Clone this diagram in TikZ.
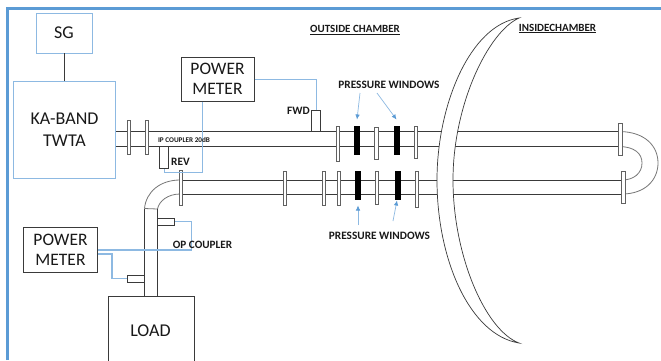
\documentclass[tikz,border=0pt]{standalone}
\usepackage{fontspec}
\setmainfont{Carlito}
\usetikzlibrary{arrows.meta}
\definecolor{frameblue}{HTML}{5B9BD5}
\definecolor{wireblue}{HTML}{8DB9E2}
\definecolor{darkline}{HTML}{3A3A3A}
\definecolor{elbowgrey}{HTML}{777777}
\tikzset{
  bluebox/.style={draw=wireblue,line width=.9pt,fill=white,inner sep=0pt,align=center,font=\fontsize{18}{21.5}\selectfont,text=black!90},
  darkbox/.style={draw=darkline,line width=1pt,fill=white,inner sep=0pt,align=center,font=\fontsize{17.5}{20}\selectfont,text=black!90},
  guide/.style={draw=darkline,line width=.9pt},
  flangebox/.style={draw=darkline!80,line width=.8pt,fill=white},
  windowbox/.style={fill=black,draw=none},
  couplerbox/.style={draw=darkline,line width=.8pt,fill=white},
  wire/.style={draw=wireblue,line width=.9pt},
  pointer/.style={draw=wireblue,line width=.7pt,-{Latex[length=5pt,width=4.5pt,color=frameblue]}},
  boldlabel/.style={font=\fontsize{11.3}{13}\selectfont\bfseries,text=black!90,inner sep=0pt},
  bendline/.style={draw=elbowgrey,line width=.8pt},
}
\begin{document}
\begin{tikzpicture}[x=1pt,y=-1pt]
\useasboundingbox (0,0) rectangle (661,360);
\clip (0,0) rectangle (661,360);
\fill[white] (0,0) rectangle (661,360);
% frame
\draw[frameblue,line width=2.2pt] (7.5,360) -- (7.5,8.5) -- (661,8.5);

% waveguides
\coordinate (ua) at (115.5,131.5);
\coordinate (ub) at (115.5,146.5);
\coordinate (uc) at (620,131.5);
\coordinate (ud) at (620,146.5);
\draw[guide] (ua) -- (uc);
\draw[guide] (ub) -- (ud);
\coordinate (la) at (180,180);
\coordinate (lb) at (180,194);
\coordinate (lc) at (622,180);
\coordinate (ld) at (622,194);
\draw[guide] (la) -- (lc);
\draw[guide] (lb) -- (ld);
% U bend
\draw[bendline] (uc) .. controls (645,132) and (658,146) .. (658,163) .. controls (658,180) and (645,194) .. (ld);
\draw[bendline] (ud) .. controls (634,147) and (642,153) .. (642,163) .. controls (642,173) and (634,180) .. (lc);
% elbow
\coordinate (va) at (144.5,208.5);
\coordinate (vb) at (157.5,209);
\draw[bendline] (la) .. controls (160,180) and (146,192) .. (va);
\draw[bendline] (lb) .. controls (168,194) and (159,201) .. (vb);
\draw[bendline] (va) -- (vb);
\coordinate (vc) at (144.5,296);
\coordinate (vd) at (157.5,296);
\draw[guide] (va) -- (vc);
\draw[guide] (vb) -- (vd);

% flanges
\foreach \xa/\ya/\xb/\yb in {
 127/120/130.5/154, 145/120/148/154,
 336/126/339.5/161, 374.5/127/378/159, 414/126/417.5/158, 618.5/123/622.5/155,
 179/170.5/182/205, 283/171/286/205, 322/171/325/205,
 337/171/340.5/205, 375/171/378.5/204, 415/171/418.5/207, 621/171/625/203}
 {\draw[flangebox] (\xa,\ya) rectangle (\xb,\yb);}
% pressure windows
\foreach \xa/\ya/\xb/\yb in {
 353.5/126/360/155, 393.5/126/399.5/155,
 354.5/171/361/200, 394.5/171/400.5/200}
 {\fill[windowbox] (\xa,\ya) rectangle (\xb,\yb);}

% dish
\draw[fill=white,draw=darkline,line width=.7pt]
  (519,18) .. controls (470,25) and (437,105) .. (437,180)
  .. controls (437,260) and (470,335) .. (519,343)
  .. controls (485,330) and (453,255) .. (453,180)
  .. controls (453,105) and (488,32) .. (519,18) -- cycle;

% boxes
\node[bluebox,minimum width=56pt,minimum height=40pt] (sg) at (64,33) {SG};
\node[bluebox,minimum width=102pt,minimum height=97pt] (twta) at (64.5,129.5) {KA-BAND\\TWTA};
\node[darkbox,minimum width=73pt,minimum height=44pt] (pmtop) at (217.5,79) {POWER\\METER};
\node[darkbox,minimum width=74pt,minimum height=45.5pt] (pmlow) at (60.5,249.75) {POWER\\METER};
\node[darkbox,minimum width=85.5pt,minimum height=70pt,anchor=north west] (load) at (108,296) {};
\node[font=\fontsize{18}{20}\selectfont,text=black!90,inner sep=0pt] (loadtext) at (150.5,331) {LOAD};
\draw[darkline,line width=1pt] (sg.south) -- (sg.south |- twta.north);

% couplers
\node[couplerbox,inner sep=0pt,minimum width=9pt,minimum height=21pt] (fwdc) at (316,120.5) {};
\node[couplerbox,inner sep=0pt,minimum width=9pt,minimum height=22pt] (revc) at (164,157.5) {};
\node[couplerbox,inner sep=0pt,minimum width=17pt,minimum height=7pt] (opa) at (166,221.5) {};
\node[couplerbox,inner sep=0pt,minimum width=17.5pt,minimum height=7pt] (opb) at (135.75,278.5) {};

% wires
\coordinate (pa) at (pmtop.east);
\draw[wire] (pa) -| (fwdc.north);
\coordinate (pb) at (202,172);
\draw[wire] (pmtop.south -| pb) -- (pb) -| (revc.south);
\coordinate (pc) at (191.5,250);
\draw[wire,line width=1.2pt] (opa.east) -| (pc) -- (pmlow.east |- pc);
\coordinate (pd) at (112,254);
\draw[wire,line width=1.2pt] (pmlow.east |- pd) -- (pd) |- (opb.west);

% labels
\node[boldlabel,font=\fontsize{11}{13}\selectfont\bfseries] (outl) at (355,30) {\underline{OUTSIDE CHAMBER}};
\node[boldlabel,font=\fontsize{11}{13}\selectfont\bfseries] (insl) at (557.5,28.5) {\underline{INSIDECHAMBER}};
\node[boldlabel] (pwa) at (389,85) {PRESSURE WINDOWS};
\node[boldlabel] (pwb) at (379.5,235.5) {PRESSURE WINDOWS};
\node[boldlabel] (fwdl) at (298.5,110.5) {FWD};
\node[boldlabel] (revl) at (180.5,162) {REV};
\node[boldlabel,font=\fontsize{7.2}{8}\selectfont\bfseries] (ipl) at (184,140) {IP COUPLER 20dB};
\node[boldlabel,font=\fontsize{11.2}{13}\selectfont\bfseries] (opl) at (202.5,244.5) {OP COUPLER};

% arrows to the windows
\coordinate (wa) at (357,119.5);
\coordinate (wb) at (396.5,119.5);
\coordinate (wc) at (358,205.5);
\coordinate (wd) at (397,200.5);
\coordinate (sa) at (360,93);
\coordinate (sb) at (377,93);
\coordinate (sc) at (358,225);
\coordinate (sd) at (393,221);
\draw[pointer] (sa) -- (wa);
\draw[pointer] (sb) -- (wb);
\draw[pointer] (sc) -- (wc);
\draw[pointer] (sd) -- (wd);
\end{tikzpicture}
\end{document}
